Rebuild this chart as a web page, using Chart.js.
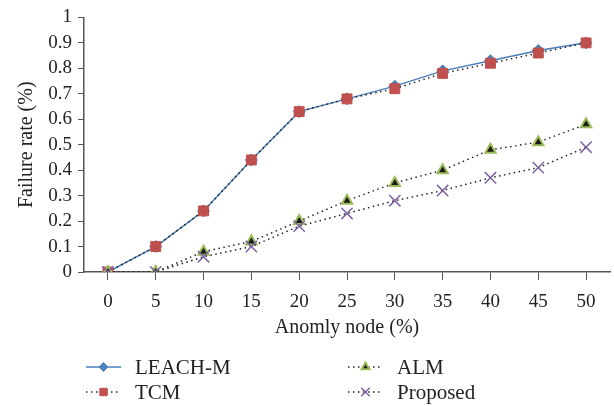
<!DOCTYPE html>
<html>
<head>
<meta charset="utf-8">
<script src="https://cdn.jsdelivr.net/npm/chart.js@4/dist/chart.umd.min.js"></script>
<style>
  html, body { margin: 0; padding: 0; background: #fff; }
  #wrap { width: 614px; height: 406px; position: relative; }
</style>
</head>
<body>
<div id="wrap"><canvas id="chart" width="614" height="406"></canvas></div>
<script>
// Data
const anomalyNodes = ['0', '5', '10', '15', '20', '25', '30', '35', '40', '45', '50'];
const leachM   = [0, 0.10, 0.24, 0.44, 0.63, 0.68, 0.73, 0.79, 0.83, 0.87, 0.90];
const tcm      = [0, 0.10, 0.24, 0.44, 0.63, 0.68, 0.72, 0.78, 0.82, 0.86, 0.90];
const alm      = [0, 0, 0.08, 0.12, 0.20, 0.28, 0.35, 0.40, 0.48, 0.51, 0.58];
const proposed = [0, 0, 0.06, 0.10, 0.18, 0.23, 0.28, 0.32, 0.37, 0.41, 0.49];

const FONT = '"Liberation Serif", "Times New Roman", serif';
const AXIS = '#555';
const DOTS = [1.5, 3.5];

// legend drawn by hand: two columns, two rows under the axis title
const legendSlots = [
    { x: 86,  y: 367 },  // LEACH-M
    { x: 86,  y: 392 },  // TCM
    { x: 348, y: 367 },  // ALM
    { x: 348, y: 392 }   // Proposed
];

const bottomLegend = {
    id: 'bottomLegend',
    afterDraw(chart) {
        const ctx = chart.ctx;
        ctx.save();
        chart.data.datasets.forEach((ds, i) => {
            const slot = legendSlots[i];
            const len = 35;
            ctx.strokeStyle = ds.borderColor;
            ctx.lineWidth = ds.borderWidth;
            ctx.setLineDash(ds.borderDash || []);
            ctx.beginPath();
            ctx.moveTo(slot.x, slot.y);
            ctx.lineTo(slot.x + len, slot.y);
            ctx.stroke();
            ctx.setLineDash([]);
            ctx.fillStyle = ds.pointBackgroundColor;
            ctx.strokeStyle = ds.pointBorderColor;
            ctx.lineWidth = ds.pointBorderWidth;
            Chart.helpers.drawPoint(ctx, {
                pointStyle: ds.pointStyle,
                radius: ds.pointRadius * 0.75,
                rotation: 0,
                borderWidth: ds.pointBorderWidth
            }, slot.x + len / 2, slot.y);
            ctx.fillStyle = '#222';
            ctx.font = '21px ' + FONT;
            ctx.textBaseline = 'middle';
            ctx.textAlign = 'left';
            ctx.fillText(ds.label, slot.x + len + 14, slot.y + 1);
        });
        ctx.restore();
    }
};

const ctx = document.getElementById('chart').getContext('2d');
const chart = new Chart(ctx, {
    type: 'line',
    data: {
        labels: anomalyNodes,
        datasets: [
            {
                label: 'LEACH-M',
                data: leachM,
                borderColor: '#4a7ebb',
                borderWidth: 1.5,
                pointStyle: 'rectRot',
                pointRadius: 6,
                pointBackgroundColor: '#4f81bd',
                pointBorderColor: '#4f81bd',
                pointBorderWidth: 1,
                tension: 0,
                order: 4
            },
            {
                label: 'TCM',
                data: tcm,
                borderColor: '#222',
                borderWidth: 1.5,
                borderDash: DOTS,
                pointStyle: 'rect',
                pointRadius: 7,
                pointBackgroundColor: '#c0504d',
                pointBorderColor: '#c0504d',
                pointBorderWidth: 1,
                tension: 0,
                order: 3
            },
            {
                label: 'ALM',
                data: alm,
                borderColor: '#222',
                borderWidth: 1.5,
                borderDash: DOTS,
                pointStyle: 'triangle',
                pointRadius: 6,
                pointBackgroundColor: '#1a1a1a',
                pointBorderColor: '#9bbb59',
                pointBorderWidth: 2,
                tension: 0,
                order: 2
            },
            {
                label: 'Proposed',
                data: proposed,
                borderColor: '#222',
                borderWidth: 1.5,
                borderDash: DOTS,
                pointStyle: 'crossRot',
                pointRadius: 8,
                pointBackgroundColor: '#8064a2',
                pointBorderColor: '#8064a2',
                pointBorderWidth: 1.5,
                tension: 0,
                order: 1
            }
        ]
    },
    options: {
        responsive: false,
        animation: false,
        events: [],
        layout: { autoPadding: false, padding: { top: 16, right: 4, bottom: 62, left: 11 } },
        plugins: {
            legend: { display: false },
            tooltip: { enabled: false }
        },
        scales: {
            x: {
                offset: true,
                grid: {
                    offset: false,
                    drawOnChartArea: false,
                    drawTicks: true,
                    tickLength: 8,
                    color: AXIS
                },
                border: { color: AXIS, width: 1.5 },
                ticks: { color: '#222', font: { family: FONT, size: 19 }, padding: 11, maxRotation: 0 },
                title: {
                    display: true,
                    text: 'Anomly node (%)',
                    color: '#222',
                    font: { family: FONT, size: 20 }
                },
                afterFit(scale) { scale.height = 72; }
            },
            y: {
                min: 0,
                max: 1,
                grid: {
                    drawOnChartArea: false,
                    drawTicks: true,
                    tickLength: 6,
                    color: AXIS
                },
                border: { color: AXIS, width: 1.5 },
                ticks: {
                    stepSize: 0.1,
                    autoSkip: false,
                    color: '#222',
                    font: { family: FONT, size: 19 },
                    padding: 6,
                    callback: v => Math.round(v * 10) / 10
                },
                title: {
                    display: true,
                    text: 'Failure rate (%)',
                    color: '#222',
                    font: { family: FONT, size: 20 },
                    padding: { bottom: 4 }
                },
                afterFit(scale) { scale.width = 73; }
            }
        }
    },
    plugins: [bottomLegend]
});
</script>
</body>
</html>
